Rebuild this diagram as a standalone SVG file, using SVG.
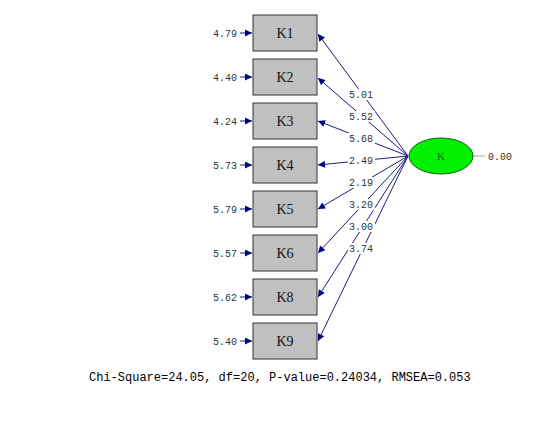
<svg xmlns="http://www.w3.org/2000/svg" width="548" height="441" viewBox="0 0 548 441">
<style>
.box{fill:#c0c0c0;stroke:#333;stroke-width:1}
.bt{font-family:"Liberation Serif",serif;font-size:14px;font-weight:normal;fill:#111;text-anchor:middle}
.num{font-family:"Liberation Mono",monospace;font-size:10px;fill:#333}
.err{text-anchor:end}
.ln{stroke:#1c1c80;stroke-width:1;fill:none}
.bg{fill:#fff}
</style>
<defs>
<marker id="ah" viewBox="0 0 10 10" refX="10" refY="5" markerWidth="9" markerHeight="7" markerUnits="userSpaceOnUse" orient="auto">
<path d="M0,0 L10,5 L0,10 z" fill="#000080"/>
</marker>
</defs>
<rect width="548" height="441" fill="#fff"/>
<g id="connectors">
<line class="ln" x1="240" y1="33" x2="252" y2="33" marker-end="url(#ah)"/>
<line class="ln" x1="240" y1="77" x2="252" y2="77" marker-end="url(#ah)"/>
<line class="ln" x1="240" y1="121" x2="252" y2="121" marker-end="url(#ah)"/>
<line class="ln" x1="240" y1="165" x2="252" y2="165" marker-end="url(#ah)"/>
<line class="ln" x1="240" y1="209" x2="252" y2="209" marker-end="url(#ah)"/>
<line class="ln" x1="240" y1="253" x2="252" y2="253" marker-end="url(#ah)"/>
<line class="ln" x1="240" y1="297" x2="252" y2="297" marker-end="url(#ah)"/>
<line class="ln" x1="240" y1="341" x2="252" y2="341" marker-end="url(#ah)"/>
<line class="ln" x1="408" y1="156" x2="318" y2="34" marker-end="url(#ah)"/>
<line class="ln" x1="408" y1="156" x2="318" y2="78" marker-end="url(#ah)"/>
<line class="ln" x1="408" y1="156" x2="318" y2="121" marker-end="url(#ah)"/>
<line class="ln" x1="408" y1="156" x2="318" y2="165" marker-end="url(#ah)"/>
<line class="ln" x1="408" y1="156" x2="318" y2="209" marker-end="url(#ah)"/>
<line class="ln" x1="408" y1="156" x2="318" y2="253" marker-end="url(#ah)"/>
<line class="ln" x1="408" y1="156" x2="318" y2="297" marker-end="url(#ah)"/>
<line class="ln" x1="408" y1="156" x2="318" y2="341" marker-end="url(#ah)"/>
<line x1="473" y1="156" x2="485" y2="156" stroke="#aaa" stroke-width="1"/>
<g id="path-labels">
<rect class="bg" x="348" y="89" width="27" height="11"/>
<rect class="bg" x="348" y="111" width="27" height="11"/>
<rect class="bg" x="348" y="133" width="27" height="11"/>
<rect class="bg" x="348" y="155" width="27" height="11"/>
<rect class="bg" x="348" y="177" width="27" height="11"/>
<rect class="bg" x="348" y="199" width="27" height="11"/>
<rect class="bg" x="348" y="221" width="27" height="11"/>
<rect class="bg" x="348" y="243" width="27" height="11"/>
<text class="num" x="349" y="98">5.01</text>
<text class="num" x="349" y="120">5.52</text>
<text class="num" x="349" y="142">5.68</text>
<text class="num" x="349" y="164">2.49</text>
<text class="num" x="349" y="186">2.19</text>
<text class="num" x="349" y="208">3.20</text>
<text class="num" x="349" y="230">3.00</text>
<text class="num" x="349" y="252">3.74</text>
</g>
</g>
<g id="K1"><rect class="box" x="253" y="15" width="64" height="36"/><text class="bt" x="285" y="38">K1</text><text class="num err" x="237" y="37">4.79</text></g>
<g id="K2"><rect class="box" x="253" y="59" width="64" height="36"/><text class="bt" x="285" y="82">K2</text><text class="num err" x="237" y="81">4.40</text></g>
<g id="K3"><rect class="box" x="253" y="103" width="64" height="36"/><text class="bt" x="285" y="126">K3</text><text class="num err" x="237" y="125">4.24</text></g>
<g id="K4"><rect class="box" x="253" y="147" width="64" height="36"/><text class="bt" x="285" y="170">K4</text><text class="num err" x="237" y="169">5.73</text></g>
<g id="K5"><rect class="box" x="253" y="191" width="64" height="36"/><text class="bt" x="285" y="214">K5</text><text class="num err" x="237" y="213">5.79</text></g>
<g id="K6"><rect class="box" x="253" y="235" width="64" height="36"/><text class="bt" x="285" y="258">K6</text><text class="num err" x="237" y="257">5.57</text></g>
<g id="K8"><rect class="box" x="253" y="279" width="64" height="36"/><text class="bt" x="285" y="302">K8</text><text class="num err" x="237" y="301">5.62</text></g>
<g id="K9"><rect class="box" x="253" y="323" width="64" height="36"/><text class="bt" x="285" y="346">K9</text><text class="num err" x="237" y="345">5.40</text></g>
<g id="K"><ellipse cx="441" cy="156" rx="32" ry="18" fill="#00f000" stroke="#1a5a1a" stroke-width="1"/><text x="441" y="160" font-family="Liberation Serif,serif" font-size="11" fill="#1a6a1a" text-anchor="middle">K</text><text class="num" x="488" y="160">0.00</text></g>
<text x="89" y="381" font-family="Liberation Mono,monospace" font-size="12" fill="#000">Chi-Square=24.05, df=20, P-value=0.24034, RMSEA=0.053</text>
</svg>
